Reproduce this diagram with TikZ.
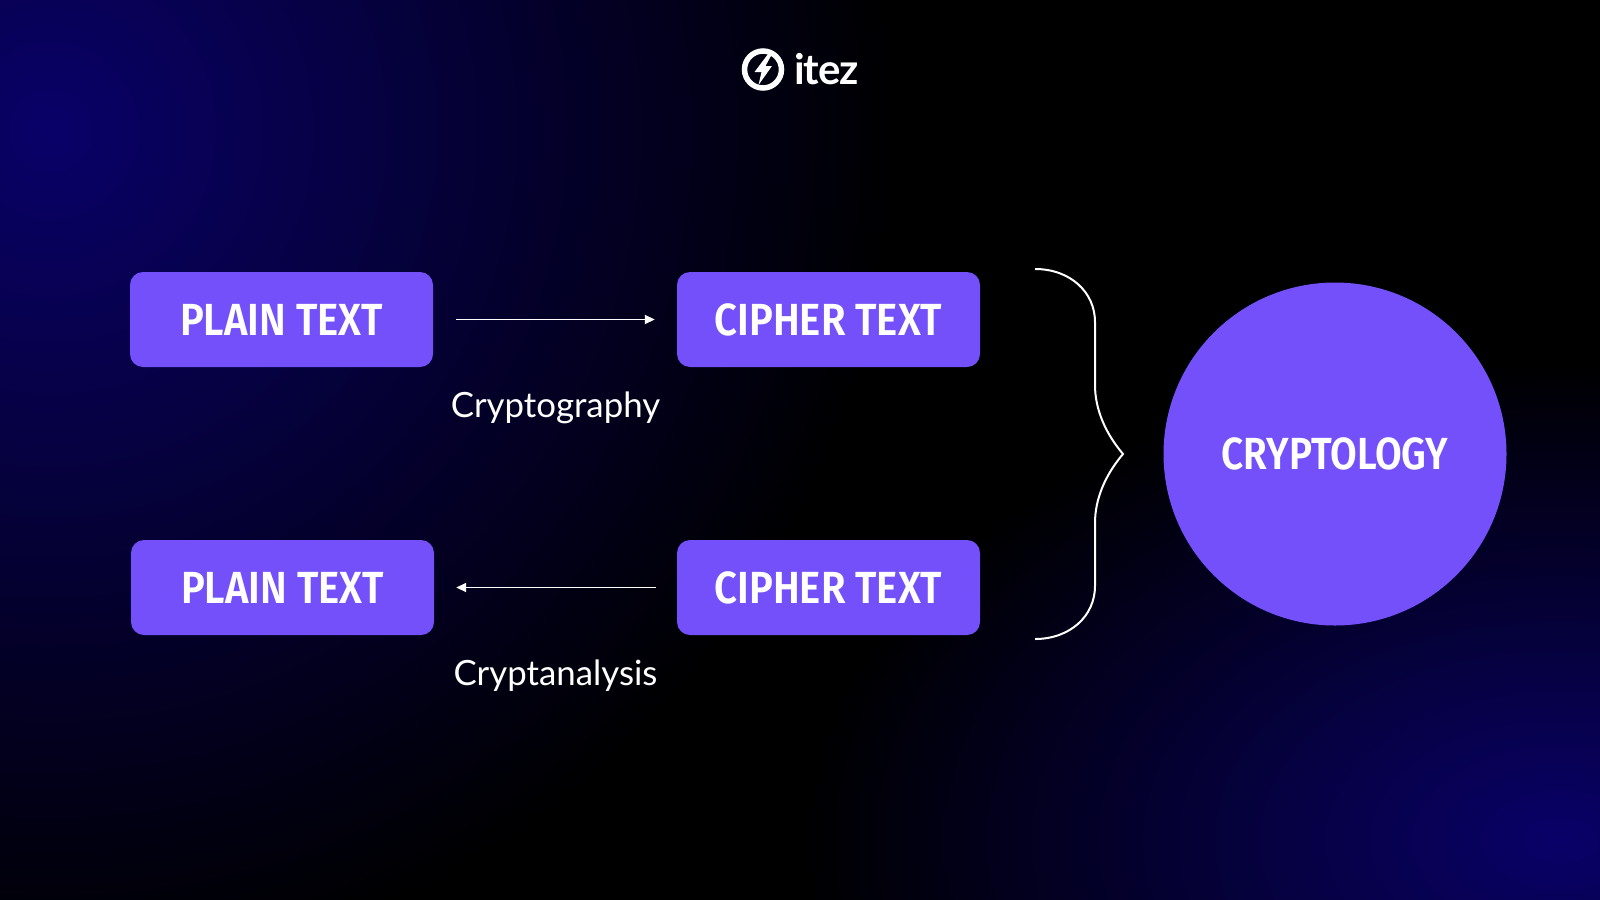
\documentclass[tikz,border=0pt]{standalone}
\usepackage{fontspec}
\setmainfont{Lato}
\newfontfamily\boxfont[FakeStretch=0.89]{Fira Sans SemiBold}
\newfontfamily\circfont[FakeStretch=0.86]{Fira Sans SemiBold}
\usetikzlibrary{fadings,arrows.meta}
\definecolor{purp}{HTML}{7350FA}
\definecolor{navy}{HTML}{0A0268}
\tikzfading[name=cornerfade,inner color=transparent!0,outer color=transparent!100]
\tikzset{
  boxnode/.style={fill=purp,rounded corners=13pt,minimum width=303pt,minimum height=95pt,inner sep=0pt,text=white,font=\boxfont\fontsize{45}{45}\selectfont},
  label/.style={text=white,anchor=base,inner sep=0pt,font=\fontsize{34.8}{36}\selectfont},
  link/.style={draw=white,line width=1.8pt,-{Triangle[length=10pt,width=9pt]}},
  bracestroke/.style={draw=white,line width=2pt}
}
\begin{document}
\begin{tikzpicture}[x=1pt,y=-1pt]
\useasboundingbox (0,0) rectangle (1600,899.5);
\fill[black] (-5,-5) rectangle (1605,905);
\begin{scope}
\clip (-5,-5) rectangle (1605,905);
\fill[navy,path fading=cornerfade] (50,130) ellipse (850 and 850);
\fill[navy,path fading=cornerfade] (1560,840) ellipse (760 and 480);
\end{scope}
\node[boxnode] (p1) at (281.5,319.5) {PLAIN TEXT};
\node[boxnode] (c1) at (828.5,319.5) {CIPHER TEXT};
\node[boxnode] (p2) at (282.5,587.5) {PLAIN TEXT};
\node[boxnode] (c2) at (828.5,587.5) {CIPHER TEXT};
\node[circle,fill=purp,minimum size=343pt,inner sep=0pt,text=white,font=\circfont\fontsize{45}{45}\selectfont] (ct) at (1335,454) {CRYPTOLOGY};
\draw[link,shorten <=23pt,shorten >=22pt] (p1) -- (c1);
\draw[link,shorten <=21pt,shorten >=22pt] (c2) -- (p2);
\node[label] (l1) at (555.5,417.5) {Cryptography};
\node[label] (l2) at (555.5,685.5) {Cryptanalysis};
\draw[bracestroke,line join=miter] (1035,269) .. controls (1070,269) and (1095,292) .. (1095,322)
  -- (1095,385) .. controls (1095,410) and (1106,434) .. (1123,454)
  .. controls (1106,474) and (1095,498) .. (1095,523)
  -- (1095,586) .. controls (1095,616) and (1070,639) .. (1035,639);
\node[circle,draw=white,line width=5.5pt,minimum size=37pt,inner sep=0pt] (logo) at (763,69.5) {};
\fill[white] (768,54) -- (754.5,72) -- (761.5,72) -- (758.5,85) -- (772,66) -- (765.5,66) -- (772,54) -- cycle;
\node[text=white,anchor=base west,inner sep=0pt,font=\bfseries\fontsize{42}{42}\selectfont\addfontfeature{LetterSpace=-2.5}] (itez) at (794,84) {itez};
\end{tikzpicture}
\end{document}
